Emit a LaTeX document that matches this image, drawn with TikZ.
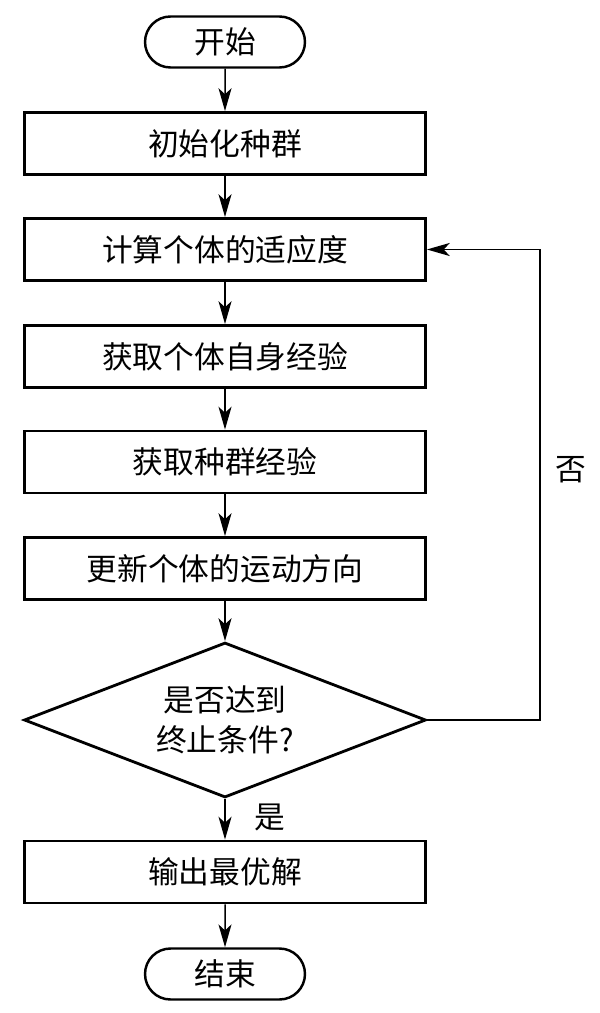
\documentclass[tikz,border=0pt]{standalone}
\usepackage{fontspec}
\newfontfamily\cjk{Noto Sans CJK SC}
\usepackage{tikz}
\usetikzlibrary{arrows.meta}
\usetikzlibrary{shapes.geometric}
\usetikzlibrary{shapes.misc}

\tikzset{
  label text/.style={font=\cjk\fontsize{17.5}{22.5}\selectfont},
  procbox/.style={label text, draw, line width=1.6pt, minimum width=8.02cm, minimum height=1.24cm, inner sep=0pt},
  termbox/.style={label text, draw, rounded rectangle, line width=1.4pt, minimum width=3.2cm, minimum height=1.02cm, inner sep=0pt},
  decbox/.style={label text, draw, diamond, aspect=2.6, line width=1.6pt, minimum width=8.04cm, minimum height=3.1cm, inner sep=0pt, align=center},
  flow/.style={-{Stealth[length=13pt, width=7.4pt, inset=3.4pt]}, line width=0.85pt},
}

\begin{document}
\begin{tikzpicture}[x=0.02cm, y=-0.02cm]
      \useasboundingbox (0,0) rectangle (599,1013);

      % Start and the main steps
      \node[termbox] (start) at (225,42) {开始};
      \node[procbox] (init) at (225,143.5) {初始化种群};
      \node[procbox] (fit) at (225,249.5) {计算个体的适应度};
      \node[procbox] (pbest) at (225,356.5) {获取个体自身经验};
      \node[procbox] (gbest) at (225,462) {获取种群经验};
      \node[procbox] (move) at (225,568.5) {更新个体的运动方向};

      % Stop test
      \node[decbox] (stop) at (225,720) {是否达到\\终止条件?};

      % Output and end
      \node[procbox] (out) at (225,872) {输出最优解};
      \node[termbox] (end) at (225,974) {结束};

      % Main flow
      \draw[flow] (start) -- (init);
      \draw[flow] (init) -- (fit);
      \draw[flow] (fit) -- (pbest);
      \draw[flow] (pbest) -- (gbest);
      \draw[flow] (gbest) -- (move);
      \draw[flow] (move) -- (stop);
      \draw[flow] (stop) -- (out);
      \draw[flow] (out) -- (end);

      % Loop back when not finished
      \coordinate (turn) at (540,720);
      \draw[flow] (stop.east) -- (turn) |- (fit.east);

      % Branch labels
      \node[label text] (yes) at (270,817) {是};
      \node[label text] (no) at (571,470) {否};
\end{tikzpicture}
\end{document}
